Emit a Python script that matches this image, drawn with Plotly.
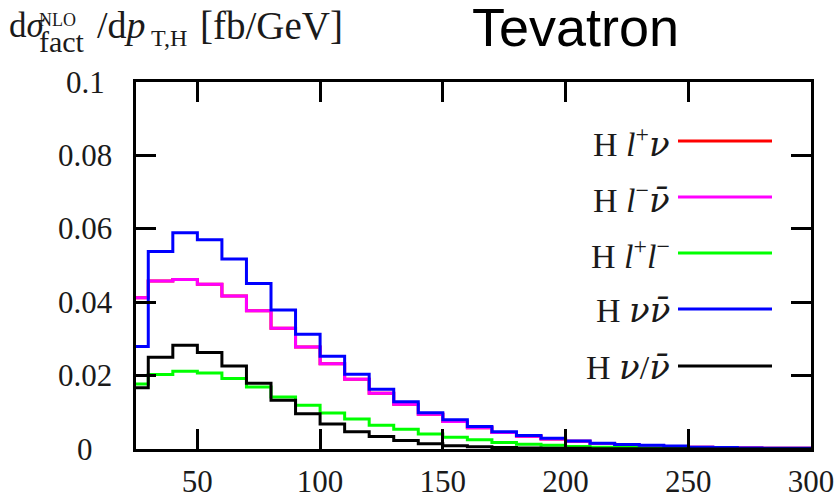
import plotly.graph_objects as go

# ---------------- data ----------------
bin_edges = list(range(20, 301, 10))  # pT,H bin edges [GeV]

H_lp_nu = [0.0412, 0.0458, 0.0462, 0.0449, 0.0417, 0.0377, 0.0329, 0.0278, 0.0232, 0.0190,
           0.0152, 0.0122, 0.0095, 0.0075, 0.0058, 0.0045, 0.0035, 0.0027, 0.0021, 0.0015,
           0.0011, 0.0009, 0.0007, 0.0005, 0.0004, 0.0003, 0.0002, 0.0002]
H_lm_nubar = [0.0412, 0.0458, 0.0462, 0.0449, 0.0417, 0.0377, 0.0329, 0.0278, 0.0232, 0.0190,
              0.0152, 0.0122, 0.0095, 0.0075, 0.0058, 0.0045, 0.0035, 0.0027, 0.0021, 0.0015,
              0.0011, 0.0009, 0.0007, 0.0005, 0.0004, 0.0003, 0.0002, 0.0002]
H_lp_lm = [0.0177, 0.0203, 0.0212, 0.0207, 0.0192, 0.0169, 0.0142, 0.0119, 0.0098, 0.0082,
           0.0065, 0.0054, 0.0041, 0.0032, 0.0025, 0.0018, 0.0013, 0.0010, 0.0007, 0.0005,
           0.0004, 0.0003, 0.0002, 0.0002, 0.0001, 0.0001, 0.0001, 0.0001]
H_nu_nubar = [0.0279, 0.0538, 0.0589, 0.0570, 0.0518, 0.0451, 0.0379, 0.0313, 0.0253, 0.0204,
              0.0163, 0.0129, 0.0099, 0.0080, 0.0061, 0.0047, 0.0037, 0.0029, 0.0022, 0.0016,
              0.0012, 0.0010, 0.0008, 0.0005, 0.0004, 0.0003, 0.0002, 0.0002]
H_nu_or_nubar = [0.0167, 0.0250, 0.0283, 0.0263, 0.0226, 0.0179, 0.0133, 0.0096, 0.0068, 0.0047,
                 0.0034, 0.0023, 0.0014, 0.0009, 0.0006, 0.0004, 0.0003, 0.0002, 0.0002, 0.0001,
                 0.0001, 0.0001, 0.0001, 0.0000, 0.0000, 0.0000, 0.0000, 0.0000]

NU = "<span style=\"font-family:DejaVu Serif\"><i>ν</i></span>"
NUBAR = "<span style=\"font-family:DejaVu Serif\"><i>ν\u0304</i></span>"

series_names = ["H l+ν", "H l−ν̄", "H l+l−", "H νν̄", "H ν/ν̄"]
series_labels = [
    "H <i>l</i><sup>+</sup>" + NU,
    "H <i>l</i><sup>−</sup>" + NUBAR,
    "H <i>l</i><sup>+</sup><i>l</i><sup>−</sup>",
    "H " + NU + NUBAR,
    "H " + NU + "/" + NUBAR,
]
series_values = [H_lp_nu, H_lm_nubar, H_lp_lm, H_nu_nubar, H_nu_or_nubar]
series_colors = ["#ff0000", "#ff00ff", "#00ff00", "#0000ff", "#000000"]

xtick_vals = [50, 100, 150, 200, 250, 300]
ytick_vals = [0, 0.02, 0.04, 0.06, 0.08, 0.1]
ytick_text = ["0", "0.02", "0.04", "0.06", "0.08", "0.1"]

# ---------------- layout helpers ----------------
W, H = 837, 499
ML, MR, MT, MB = 136, 26, 82, 50
PW, PH = W - ML - MR, H - MT - MB


def pxx(x):
    return (x - ML) / PW


def pxy(y):
    return (H - MB - y) / PH


SERIF = "Liberation Serif"
SANS = "Liberation Sans"
TXT = "#1a1a1a"

fig = go.Figure()
for name, vals, col in zip(series_names, series_values, series_colors):
    fig.add_trace(go.Scatter(
        x=bin_edges, y=vals + [vals[-1]], mode="lines", name=name,
        line=dict(color=col, width=3, shape="hv"), showlegend=False,
        hoverinfo="skip"))

ann = []
shapes = []
# legend (text left of line sample)
row_y = [141, 197, 253, 309, 366]
for lab, col, ry in zip(series_labels, series_colors, row_y):
    shapes.append(dict(type="line", xref="paper", yref="paper",
                       x0=pxx(678), x1=pxx(772), y0=pxy(ry), y1=pxy(ry),
                       line=dict(color=col, width=3)))
    ann.append(dict(xref="paper", yref="paper", x=pxx(672), y=pxy(ry + 1),
                    xanchor="right", yanchor="middle", text=lab, showarrow=False,
                    font=dict(family=SERIF, size=34, color=TXT)))

# y tick labels centred
for v, t in zip(ytick_vals, ytick_text):
    ann.append(dict(xref="paper", yref="y", x=pxx(85), y=v, xanchor="center",
                    yanchor="middle", text=t, showarrow=False,
                    font=dict(family=SERIF, size=31, color=TXT)))

# y-axis title pieces
ann.append(dict(xref="paper", yref="paper", x=pxx(7), y=pxy(25), xanchor="left",
                yanchor="middle", text="d<i>σ</i>", showarrow=False,
                font=dict(family=SERIF, size=35, color=TXT)))
ann.append(dict(xref="paper", yref="paper", x=pxx(37), y=pxy(20), xanchor="left",
                yanchor="middle", text="NLO", showarrow=False,
                font=dict(family=SERIF, size=18, color=TXT)))
ann.append(dict(xref="paper", yref="paper", x=pxx(37), y=pxy(41), xanchor="left",
                yanchor="middle", text="fact", showarrow=False,
                font=dict(family=SERIF, size=30, color=TXT)))
ann.append(dict(xref="paper", yref="paper", x=pxx(95), y=pxy(25), xanchor="left",
                yanchor="middle", text="/d<i>p</i>", showarrow=False,
                font=dict(family=SERIF, size=38, color=TXT)))
ann.append(dict(xref="paper", yref="paper", x=pxx(149), y=pxy(38), xanchor="left",
                yanchor="middle", text="T,H", showarrow=False,
                font=dict(family=SERIF, size=24, color=TXT)))
ann.append(dict(xref="paper", yref="paper", x=pxx(198), y=pxy(25), xanchor="left",
                yanchor="middle", text="[fb/GeV]", showarrow=False,
                font=dict(family=SERIF, size=39, color=TXT)))

# title
ann.append(dict(xref="paper", yref="paper", x=pxx(575), y=pxy(27), xanchor="center",
                yanchor="middle", text="Tevatron", showarrow=False,
                font=dict(family=SANS, size=54, color="black")))

fig.update_layout(
    width=W, height=H,
    margin=dict(l=ML, r=MR, t=MT, b=MB, pad=0, autoexpand=False),
    paper_bgcolor="white", plot_bgcolor="white",
    annotations=ann, shapes=shapes,
    xaxis=dict(range=[25, 300], tickvals=xtick_vals, ticks="inside", ticklen=20,
               tickwidth=3, tickcolor="black", showline=True, linewidth=3,
               linecolor="black", mirror="allticks", showgrid=False, zeroline=False,
               tickfont=dict(family=SERIF, size=31, color=TXT),
               ticklabelstandoff=3, automargin=False),
    yaxis=dict(range=[0, 0.1], tickvals=ytick_vals, ticks="inside", ticklen=20,
               tickwidth=3, tickcolor="black", showline=True, linewidth=3,
               linecolor="black", mirror="allticks", showgrid=False, zeroline=False,
               showticklabels=False, automargin=False),
)

fig.write_html("out.html")
